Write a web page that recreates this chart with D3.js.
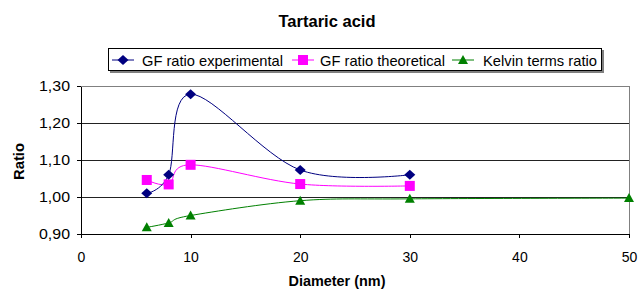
<!DOCTYPE html>
<html>
<head>
<meta charset="utf-8">
<script src="https://cdn.jsdelivr.net/npm/d3@7"></script>
<style>
  html, body { margin: 0; padding: 0; background: #fff; }
  svg { display: block; font-family: "Liberation Sans", Arial, sans-serif; }
</style>
</head>
<body>
<svg id="chart" width="639" height="290"></svg>
<script>
// ---- data ----
const diameters = [6, 8, 10, 20, 30];
const gfExperimental = [1.010, 1.060, 1.278, 1.073, 1.060];
const gfTheoretical = [1.046, 1.034, 1.087, 1.035, 1.030];
const kelvinDiameters = [6, 8, 10, 20, 30, 50];
const kelvinRatio = [0.918, 0.930, 0.950, 0.990, 0.995, 0.997];
const xTicks = [0, 10, 20, 30, 40, 50];
const yTicks = [0.90, 1.00, 1.10, 1.20, 1.30];
const seriesNames = ["GF ratio experimental", "GF ratio theoretical", "Kelvin terms ratio"];
const seriesColors = ["#000080", "#FF00FF", "#008000"];

const svg = d3.select("#chart");
const pLeft = 81, pRight = 629, pTop = 86, pBottom = 234;

const x = d3.scaleLinear().domain([0, 50]).range([pLeft, pRight]);
const y = d3.scaleLinear().domain([0.90, 1.30]).range([pBottom, pTop]);

// title
svg.append("text").attr("x", 327).attr("y", 26.5).attr("text-anchor", "middle")
  .attr("font-size", 16).attr("font-weight", "bold").attr("fill", "#000")
  .attr("textLength", 97).attr("lengthAdjust", "spacingAndGlyphs")
  .text("Tartaric acid");

// gridlines
svg.append("g").selectAll("line").data(yTicks.filter(d => d > 0.9 && d < 1.3)).join("line")
  .attr("x1", pLeft).attr("x2", pRight).attr("y1", d => y(d)).attr("y2", d => y(d))
  .attr("stroke", "#222").attr("stroke-width", 1).attr("shape-rendering", "crispEdges");

// plot border top/right (grey)
svg.append("path")
  .attr("d", `M${pLeft},${pTop}H${pRight}V${pBottom}`)
  .attr("fill", "none").attr("stroke", "#808080").attr("stroke-width", 1)
  .attr("shape-rendering", "crispEdges");

// axes
const xAxis = d3.axisBottom(x).tickValues(xTicks).tickSize(4).tickSizeOuter(0).tickPadding(14)
  .tickFormat(d3.format("d"));
const gx = svg.append("g").attr("transform", `translate(0,${pBottom})`).call(xAxis);
const yAxis = d3.axisLeft(y).tickValues(yTicks).tickSize(4).tickSizeOuter(0).tickPadding(7)
  .tickFormat(d => d3.format(".2f")(d).replace(".", ","));
const gy = svg.append("g").attr("transform", `translate(${pLeft},0)`).call(yAxis);
[gx, gy].forEach(g => {
  g.selectAll("path,line").attr("stroke", "#000").attr("shape-rendering", "crispEdges");
  g.selectAll("text").attr("font-size", 14).attr("fill", "#000")
    .attr("font-family", "'Liberation Sans', Arial, sans-serif");
});
gx.selectAll("text").attr("dy", "0.71em");
gy.selectAll("text").attr("textLength", 31).attr("lengthAdjust", "spacingAndGlyphs");

// axis titles
svg.append("text").attr("x", 337).attr("y", 286).attr("text-anchor", "middle")
  .attr("font-size", 14).attr("font-weight", "bold")
  .attr("textLength", 97).attr("lengthAdjust", "spacingAndGlyphs")
  .text("Diameter (nm)");
svg.append("text").attr("transform", "translate(24,161.5) rotate(-90)").attr("text-anchor", "middle")
  .attr("font-size", 14.5).attr("font-weight", "bold")
  .attr("textLength", 37).attr("lengthAdjust", "spacingAndGlyphs")
  .text("Ratio");

// series
const curve = d3.curveCardinal.tension(0);
const line = d3.line().x(d => x(d[0])).y(d => y(d[1])).curve(curve);

const series = [
  { pts: d3.zip(diameters, gfExperimental), color: seriesColors[0], shape: "diamond" },
  { pts: d3.zip(diameters, gfTheoretical), color: seriesColors[1], shape: "square" },
  { pts: d3.zip(kelvinDiameters, kelvinRatio), color: seriesColors[2], shape: "triangle" }
];

function marker(g, shape, color, cx, cy) {
  if (shape === "diamond") {
    g.append("path").attr("d", `M${cx},${cy-5}L${cx+5.5},${cy}L${cx},${cy+5}L${cx-5.5},${cy}Z`)
      .attr("fill", color);
  } else if (shape === "square") {
    g.append("rect").attr("x", cx - 5).attr("y", cy - 5).attr("width", 10).attr("height", 10)
      .attr("fill", color);
  } else {
    g.append("path").attr("d", `M${cx},${cy-5}L${cx+5},${cy+4}L${cx-5},${cy+4}Z`)
      .attr("fill", color);
  }
}

series.slice().reverse().forEach(s => {
  svg.append("path").datum(s.pts).attr("d", line)
    .attr("fill", "none").attr("stroke", s.color).attr("stroke-width", 1);
});
series.slice().reverse().forEach(s => {
  const g = svg.append("g");
  s.pts.forEach(p => marker(g, s.shape, s.color, x(p[0]), y(p[1])));
});

// legend
const lg = svg.append("g");
lg.append("rect").attr("x", 110).attr("y", 50).attr("width", 494).attr("height", 23).attr("fill", "#808080");
lg.append("rect").attr("x", 108.5).attr("y", 48.5).attr("width", 493).attr("height", 22)
  .attr("fill", "#fff").attr("stroke", "#000").attr("stroke-width", 1);
const legendItems = [
  { lx: 112, tx: 142, tw: 141 },
  { lx: 292, tx: 320, tw: 125 },
  { lx: 452, tx: 483, tw: 114 }
];
legendItems.forEach((it, i) => {
  lg.append("line").attr("x1", it.lx).attr("x2", it.lx + 22).attr("y1", 60).attr("y2", 60)
    .attr("stroke", seriesColors[i]).attr("stroke-width", 1);
  marker(lg, series[i].shape, seriesColors[i], it.lx + 11, 60);
  lg.append("text").attr("x", it.tx).attr("y", 66).attr("font-size", 15)
    .attr("textLength", it.tw).attr("lengthAdjust", "spacingAndGlyphs")
    .text(seriesNames[i]);
});
</script>
</body>
</html>
